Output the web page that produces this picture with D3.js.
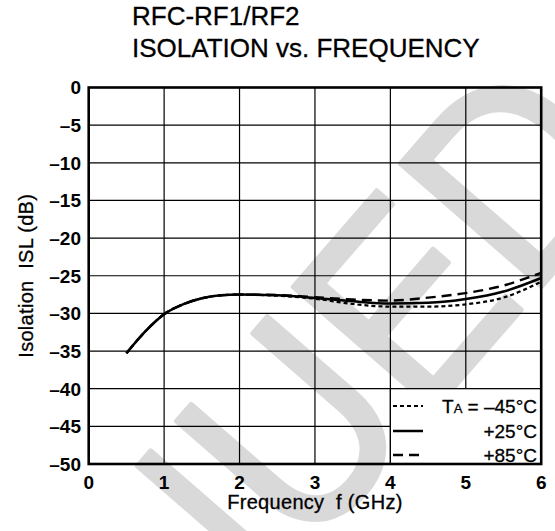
<!DOCTYPE html>
<html>
<head>
<meta charset="utf-8">
<script src="https://cdn.jsdelivr.net/npm/d3@7/dist/d3.min.js"></script>
<style>
  body { margin: 0; background: #fff; }
  svg { display: block; font-family: "Liberation Sans", Arial, Helvetica, sans-serif; }
</style>
</head>
<body>
<svg id="chart" width="555" height="531"></svg>
<script>
// values (GHz / dB)
const freq   = [0.5, 0.75, 1, 1.25, 1.5, 1.75, 2, 2.5, 3, 3.5, 4, 4.5, 5, 5.5, 6];
const isoM45 = [-35.3, -32.4, -30.1, -28.8, -28.0, -27.6, -27.5, -27.65, -28.05, -28.75, -29.1, -29.1, -28.8, -27.9, -25.8];
const iso25  = [-35.3, -32.4, -30.1, -28.8, -28.0, -27.6, -27.5, -27.6, -27.95, -28.4, -28.7, -28.6, -28.1, -27.1, -25.3];
const iso85  = [-35.3, -32.4, -30.1, -28.8, -28.0, -27.6, -27.5, -27.55, -27.85, -28.15, -28.3, -27.9, -27.3, -26.3, -24.6];

const xTicks = [0, 1, 2, 3, 4, 5, 6];
const yTicks = [0, -5, -10, -15, -20, -25, -30, -35, -40, -45, -50];
const yTickLabels = ["0", "–5", "–10", "–15", "–20", "–25", "–30", "–35", "–40", "–45", "–50"];
const legendTemps = ["–45°C", "+25°C", "+85°C"];

const MARGIN = { top: 87.5, left: 88.7, right: 13.8, bottom: 67 };
const W = 555, H = 531;

const svg = d3.select("#chart");

const x = d3.scaleLinear().domain([0, 6]).range([MARGIN.left, W - MARGIN.right]);
const y = d3.scaleLinear().domain([-50, 0]).range([H - MARGIN.bottom, MARGIN.top]);

// grey watermark behind everything (origin = centre of the "U")
svg.append("g")
  .attr("transform", "translate(290,428) rotate(-49) scale(0.9,1)")
  .append("text")
  .attr("x", 476).attr("y", 97)
  .attr("text-anchor", "end")
  .attr("font-size", 272)
  .attr("fill", "#d9d9d9")
  .attr("stroke", "#d9d9d9")
  .attr("stroke-width", 5)
  .attr("stroke-linejoin", "round")
  .text("DISCONTINUED");

// title
const title = svg.append("g")
  .attr("font-size", 26).attr("fill", "#000")
  .attr("stroke", "#000").attr("stroke-width", 0.3);
title.append("text").attr("x", 132).attr("y", 25).text("RFC-RF1/RF2");
title.append("text").attr("x", 132).attr("y", 57).text("ISOLATION vs. FREQUENCY");

// grid
const grid = svg.append("g").attr("stroke", "#000").attr("stroke-width", 1.2);
xTicks.slice(1, -1).forEach(t => {
  grid.append("line")
    .attr("x1", x(t)).attr("x2", x(t))
    .attr("y1", y(0)).attr("y2", y(-50));
});
yTicks.slice(1, -1).forEach(t => {
  grid.append("line")
    .attr("x1", x(0)).attr("x2", x(6))
    .attr("y1", y(t)).attr("y2", y(t));
});

// legend box (white, hides grid + watermark)
svg.append("rect")
  .attr("x", x(4)).attr("y", y(-40))
  .attr("width", x(6) - x(4)).attr("height", y(-50) - y(-40))
  .attr("fill", "#fff").attr("stroke", "#000").attr("stroke-width", 1.2);

// curves
const line = d3.line()
  .x(d => x(d[0]))
  .y(d => y(d[1]))
  .curve(d3.curveMonotoneX);

const series = [
  { vals: isoM45, dash: "4,3",  width: 2.2 },
  { vals: iso25,  dash: null,   width: 2.5 },
  { vals: iso85,  dash: "10,6", width: 2.4 }
];

[series[0], series[2], series[1]].forEach(s => {
  svg.append("path")
    .datum(freq.map((f, i) => [f, s.vals[i]]))
    .attr("d", line)
    .attr("fill", "none")
    .attr("stroke", "#000")
    .attr("stroke-width", s.width)
    .attr("stroke-dasharray", s.dash);
});

// frame
svg.append("rect")
  .attr("x", x(0)).attr("y", y(0))
  .attr("width", x(6) - x(0)).attr("height", y(-50) - y(0))
  .attr("fill", "none").attr("stroke", "#000").attr("stroke-width", 2.6);

// tick labels
const tl = svg.append("g").attr("font-size", 19).attr("font-weight", "bold").attr("fill", "#000");
yTicks.forEach((t, i) => {
  tl.append("text")
    .attr("x", 81).attr("y", y(t)).attr("dy", "0.36em")
    .attr("text-anchor", "end")
    .text(yTickLabels[i]);
});
xTicks.forEach(t => {
  tl.append("text")
    .attr("x", x(t)).attr("y", 489)
    .attr("text-anchor", "middle")
    .text(t);
});

// axis titles
const at = svg.append("g")
  .attr("font-size", 20).attr("letter-spacing", 0.3)
  .attr("stroke", "#000").attr("stroke-width", 0.3);
at.append("text")
  .attr("x", (x(0) + x(6)) / 2).attr("y", 509)
  .attr("text-anchor", "middle")
  .text("Frequency\u00a0\u00a0f (GHz)");
at.append("text")
  .attr("transform", `translate(33,${(y(0) + y(-50)) / 2}) rotate(-90)`)
  .attr("text-anchor", "middle")
  .text("Isolation\u00a0\u00a0ISL (dB)");

// legend entries
const legY = [406, 431, 455];
const lg = svg.append("g")
  .attr("font-size", 19).attr("fill", "#000")
  .attr("stroke", "#000").attr("stroke-width", 0.3);
series.forEach((s, i) => {
  lg.append("line")
    .attr("x1", 393).attr("x2", 423)
    .attr("y1", legY[i]).attr("y2", legY[i])
    .attr("stroke-width", s.width)
    .attr("stroke-dasharray", s.dash);
  const t = lg.append("text")
    .attr("x", 537).attr("y", legY[i]).attr("dy", "0.36em")
    .attr("text-anchor", "end");
  if (i === 0) {
    t.append("tspan").text("T");
    t.append("tspan").attr("font-size", 13).text("A");
    t.append("tspan").text(" = " + legendTemps[i]);
  } else {
    t.text(legendTemps[i]);
  }
});
</script>
</body>
</html>
